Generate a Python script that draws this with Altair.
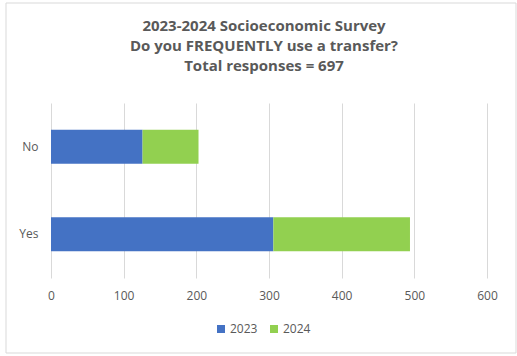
import altair as alt
import pandas as pd

answers = ["No", "Yes"]
years = ["2023", "2024"]
values_2023 = [126, 306]
values_2024 = [77, 188]
title_lines = ["2023-2024 Socioeconomic Survey",
               "Do you FREQUENTLY use a transfer?",
               "Total responses = 697"]

rows = []
for i, a in enumerate(answers):
    rows.append({"answer": a, "year": "2023", "count": values_2023[i], "order": 0})
    rows.append({"answer": a, "year": "2024", "count": values_2024[i], "order": 1})
df = pd.DataFrame(rows)

FONT = "Open Sans"
GREY = "#595959"

bars = alt.Chart(df).mark_bar().encode(
    y=alt.Y("answer:N", sort=answers, title=None,
            scale=alt.Scale(paddingInner=0.61, paddingOuter=0.305),
            axis=alt.Axis(ticks=False, domain=False, labelPadding=13,
                          labelFontSize=12, labelColor=GREY, labelFont=FONT)),
    x=alt.X("sum(count):Q", title=None,
            scale=alt.Scale(domain=[0, 600], nice=False),
            axis=alt.Axis(values=[0, 100, 200, 300, 400, 500, 600], ticks=False,
                          domain=False, grid=True, gridColor="#d9d9d9",
                          labelFlush=False,
                          labelPadding=12, labelFontSize=12, labelColor=GREY,
                          labelFont=FONT)),
    color=alt.Color("year:N", sort=years,
                    scale=alt.Scale(domain=years, range=["#4472c4", "#92d050"]),
                    legend=alt.Legend(title=None, orient="none", direction="horizontal",
                                      legendX=164, legendY=220, symbolType="square",
                                      symbolSize=64, symbolStrokeWidth=0,
                                      labelFontSize=12, labelColor=GREY, labelFont=FONT,
                                      columnPadding=10, labelOffset=3)),
    order=alt.Order("order:Q"),
)

dummy = pd.DataFrame({"k": [0]})

border = alt.Chart(dummy).mark_rect(
    fill=None, stroke="#d9d9d9", strokeWidth=1
).encode(
    x=alt.value(-45), x2=alt.value(465), y=alt.value(-100), y2=alt.value(250)
)

title = alt.Chart(dummy).mark_text(
    font=FONT, fontSize=15, fontWeight="bold", color=GREY, lineHeight=20,
    align="center", baseline="alphabetic"
).encode(
    x=alt.value(213), y=alt.value(-72), text=alt.value(title_lines)
)

chart = alt.layer(border, title, bars).properties(
    width=436, height=175,
    padding={"left": 51, "top": 103, "right": 30, "bottom": 78},
    autosize=alt.AutoSizeParams(type="none"),
).configure_view(stroke=None)

chart.save("out.html", embed_options={"renderer": "svg", "actions": False})
